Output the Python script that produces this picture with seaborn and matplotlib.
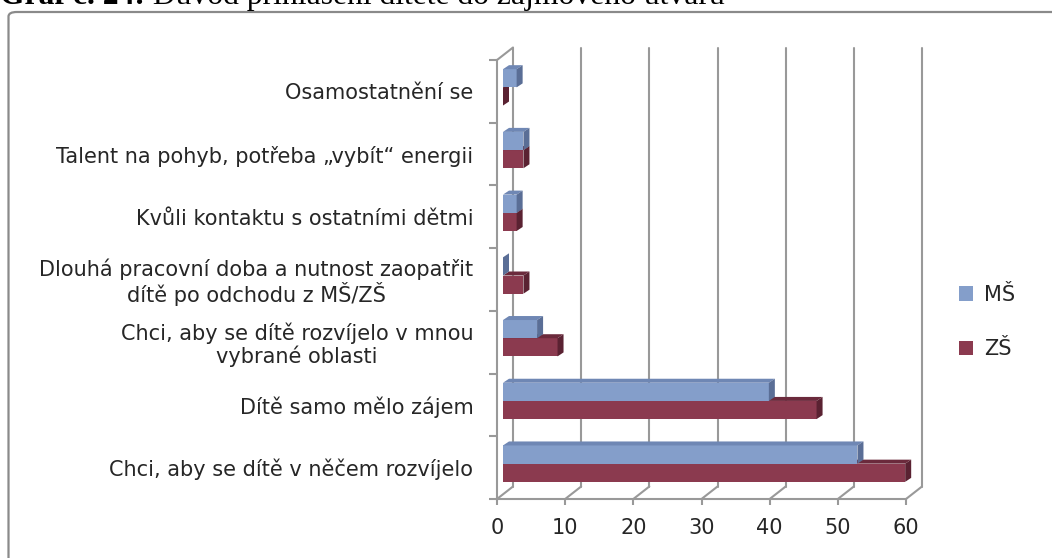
import matplotlib
matplotlib.use("Agg")
import matplotlib.pyplot as plt
import matplotlib.transforms as mtransforms
from matplotlib.patches import Polygon, Patch, FancyBboxPatch
import seaborn as sns
import pandas as pd

categories = [
    "Osamostatnění se",
    "Talent na pohyb, potřeba „vybít“ energii",
    "Kvůli kontaktu s ostatními dětmi",
    "Dlouhá pracovní doba a nutnost zaopatřit\ndítě po odchodu z MŠ/ZŠ",
    "Chci, aby se dítě rozvíjelo v mnou\nvybrané oblasti",
    "Dítě samo mělo zájem",
    "Chci, aby se dítě v něčem rozvíjelo",
]
ms_values = [2, 3, 2, 0, 5, 39, 52]
zs_values = [0, 3, 2, 3, 8, 46, 59]
groups = ["MŠ", "ZŠ"]
x_ticks = [0, 10, 20, 30, 40, 50, 60]
title_bold = "Graf č. 24:"
title_rest = " Důvod přihlášení dítěte do zájmového útvaru"

front_colors = {"MŠ": "#849ECA", "ZŠ": "#8B3A4F"}
top_colors = {"MŠ": "#6F87B4", "ZŠ": "#6B2A3C"}
side_colors = {"MŠ": "#5A6E96", "ZŠ": "#5A2232"}

df = pd.DataFrame({
    "cat": categories * 2,
    "value": ms_values + zs_values,
    "group": ["MŠ"] * len(categories) + ["ZŠ"] * len(categories),
})

sns.set_style("white")
plt.rcParams["font.family"] = ["DejaVu Sans"]

W, H = 1052, 558
fig = plt.figure(figsize=(W / 100, H / 100), dpi=100)
fig.patch.set_facecolor("white")

# chart border (clipped by figure edge)
border = FancyBboxPatch((8.5 / W, -0.2), 1.2, 1.2 - 12 / H,
                        boxstyle="round,pad=0,rounding_size=0.008",
                        transform=fig.transFigure, fill=False,
                        edgecolor="#8A8A8A", linewidth=1.6, zorder=0)
fig.patches.append(border)

# title (partly cut off at the top as in the reference)
TS = 22.8
t1 = fig.text(0.0, 1 - 4 / H, title_bold, fontsize=TS, fontweight="bold",
              family="Liberation Serif", va="baseline", ha="left",
              color="black")
fig.canvas.draw()
bb = t1.get_window_extent()
fig.text(bb.x1 / W, 1 - 4 / H, title_rest, fontsize=TS,
         family="Liberation Serif", va="baseline", ha="left", color="black")

ax_l, ax_r, ax_t, ax_b = 497, 906, 60, 499
ax = fig.add_axes([ax_l / W, 1 - ax_b / H, (ax_r - ax_l) / W, (ax_b - ax_t) / H])

sns.barplot(data=df, y="cat", x="value", hue="group", hue_order=groups,
            orient="h", width=0.58, palette=front_colors, saturation=1,
            legend=False, ax=ax, zorder=3)

ncat = len(categories)
ax.set_xlim(0, 60)
ax.set_ylim(ncat - 0.5, -0.5)

ppx = (ax_r - ax_l) / 60.0
ppy = (ax_b - ax_t) / ncat


def dxd(px):
    return px / ppx


def dyd(px):  # px upward -> data offset
    return -px / ppy


# back wall: grid lines, floor diagonals
gdx, gdy = dxd(16), dyd(12.5)
grid_col = "#999999"
for xv in x_ticks:
    ax.plot([xv + gdx, xv + gdx], [ncat - 0.5 + gdy, -0.5 + gdy],
            color=grid_col, lw=1.5, clip_on=False, zorder=1)
    ax.plot([xv, xv + gdx], [ncat - 0.5, ncat - 0.5 + gdy],
            color=grid_col, lw=1.5, clip_on=False, zorder=1)
ax.plot([0, gdx], [-0.5, -0.5 + gdy], color=grid_col, lw=1.5,
        clip_on=False, zorder=1)

# shift bars into their 3D plane and add top / side faces
bx, by = dxd(6), dyd(4)
ddx, ddy = dxd(6), dyd(4)
offset = mtransforms.ScaledTranslation(6 / 100, 4 / 100, fig.dpi_scale_trans)
for g, cont in zip(groups, ax.containers):
    z = 5 if g == "MŠ" else 3
    for p in cont:
        p.set_transform(ax.transData + offset)
        p.set_clip_on(False)
        p.set_zorder(z)
        p.set_edgecolor("none")
        x0 = p.get_x()
        x1 = x0 + p.get_width()
        yt = p.get_y()
        yb = yt + p.get_height()
        top = Polygon([(x0 + bx, yt + by), (x1 + bx, yt + by),
                       (x1 + bx + ddx, yt + by + ddy),
                       (x0 + bx + ddx, yt + by + ddy)],
                      closed=True, facecolor=top_colors[g], edgecolor="none",
                      clip_on=False, zorder=z)
        side = Polygon([(x1 + bx, yt + by), (x1 + bx + ddx, yt + by + ddy),
                        (x1 + bx + ddx, yb + by + ddy), (x1 + bx, yb + by)],
                       closed=True, facecolor=side_colors[g], edgecolor="none",
                       clip_on=False, zorder=z)
        ax.add_patch(top)
        ax.add_patch(side)

# axes styling
for s in ["top", "right"]:
    ax.spines[s].set_visible(False)
for s in ["left", "bottom"]:
    ax.spines[s].set_color(grid_col)
    ax.spines[s].set_linewidth(1.5)
    ax.spines[s].set_zorder(2)

FS = 15
ax.set_xticks(x_ticks)
ax.set_xticklabels([str(v) for v in x_ticks])
ax.set_yticks(range(ncat))
ax.set_yticklabels(categories, multialignment="center", linespacing=1.1)
ax.set_yticks([i - 0.5 for i in range(ncat + 1)], minor=True)
ax.tick_params(axis="y", which="major", length=0, pad=17, labelsize=FS,
               labelcolor="#262626")
ax.tick_params(axis="y", which="minor", length=5.5, width=1.5,
               color=grid_col, left=True)
ax.tick_params(axis="x", which="major", length=4.5, width=1.5,
               color=grid_col, pad=9, labelsize=FS, labelcolor="#262626",
               bottom=True)
ax.set_xlabel("")
ax.set_ylabel("")
ax.grid(False)
ax.set_facecolor("none")

handles = [Patch(facecolor=front_colors[g], edgecolor="none", label=g)
           for g in groups]
fig.legend(handles=handles, loc="center left",
           bbox_to_anchor=(940 / W, 1 - 322 / H), frameon=False,
           fontsize=FS, handlelength=0.7, handleheight=0.7,
           handletextpad=0.5, labelspacing=1.65, labelcolor="#262626")

fig.savefig("out.png", dpi=100, facecolor="white")
